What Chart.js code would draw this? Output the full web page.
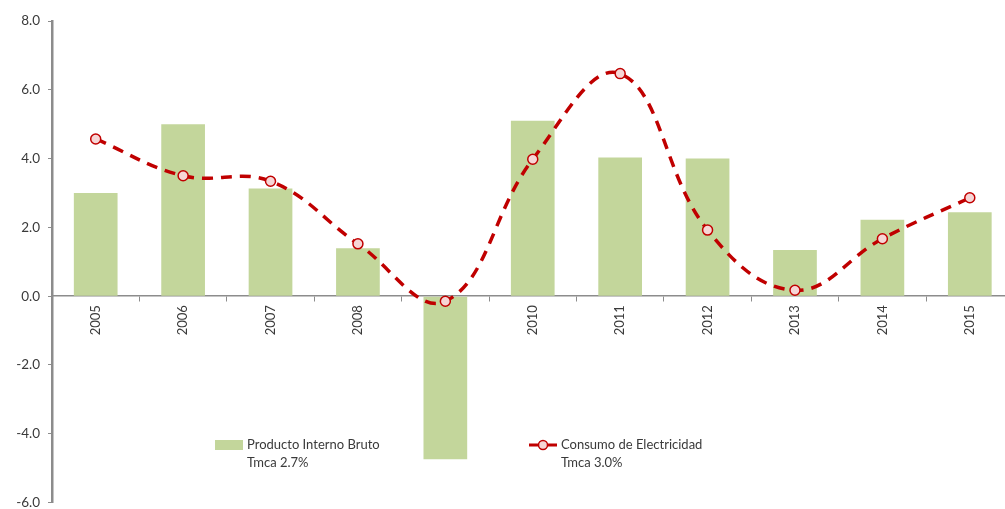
<!DOCTYPE html>
<html>
<head>
<meta charset="utf-8">
<script src="https://cdn.jsdelivr.net/npm/chart.js@4.4.1/dist/chart.umd.min.js"></script>
<style>
  html, body { margin: 0; padding: 0; background: #fff; overflow: hidden; }
  #wrap { width: 1020px; height: 509px; }
</style>
</head>
<body>
<div id="wrap"><canvas id="chart"></canvas></div>
<script>
// datos
const years = ['2005', '2006', '2007', '2008', '2009', '2010', '2011', '2012', '2013', '2014', '2015'];
const pib = [3.0, 5.0, 3.13, 1.39, -4.74, 5.1, 4.03, 4.0, 1.34, 2.22, 2.44];
const electricidad = [4.57, 3.5, 3.34, 1.52, -0.15, 3.98, 6.47, 1.92, 0.17, 1.67, 2.86];
const yTicks = [-6, -4, -2, 0, 2, 4, 6, 8];
const pibLabel = ['Producto Interno Bruto', 'Tmca 2.7%'];
const elecLabel = ['Consumo de Electricidad', 'Tmca 3.0%'];

const barColor = '#C3D69B';
const lineColor = '#C00000';
const pointFill = '#F6D6D6';
const axisColor = '#8C8C8C';
const textColor = '#3A3A3A';
const fontFamily = 'Lato, "Open Sans", sans-serif';

// leyenda dibujada dentro del area del grafico
const legendPlugin = {
    id: 'insideLegend',
    afterDraw(chart) {
        const ctx = chart.ctx;
        ctx.save();
        ctx.font = '13px ' + fontFamily;
        ctx.fillStyle = textColor;
        ctx.textBaseline = 'middle';

        // PIB
        ctx.fillStyle = barColor;
        ctx.fillRect(215, 440, 28, 10);
        ctx.fillStyle = textColor;
        ctx.fillText(pibLabel[0], 247, 445);
        ctx.fillText(pibLabel[1], 247, 463);

        // electricidad
        ctx.strokeStyle = lineColor;
        ctx.lineWidth = 3;
        ctx.beginPath();
        ctx.moveTo(529, 445); ctx.lineTo(538, 445);
        ctx.moveTo(548, 445); ctx.lineTo(557, 445);
        ctx.stroke();
        ctx.beginPath();
        ctx.arc(543, 445, 4.5, 0, Math.PI * 2);
        ctx.fillStyle = pointFill;
        ctx.fill();
        ctx.lineWidth = 1.5;
        ctx.stroke();
        ctx.fillStyle = textColor;
        ctx.fillText(elecLabel[0], 561, 445);
        ctx.fillText(elecLabel[1], 561, 463);
        ctx.restore();
    }
};

const data = {
    labels: years,
    datasets: [{
            type: 'line',
            label: elecLabel.join(' '),
            data: electricidad,
            borderColor: lineColor,
            borderWidth: 3.5,
            borderDash: [11, 8],
            tension: 0.4,
            pointRadius: 5,
            pointBorderWidth: 1.5,
            pointBackgroundColor: pointFill,
            pointBorderColor: lineColor,
            order: 0
        }, {
            type: 'bar',
            label: pibLabel.join(' '),
            data: pib,
            backgroundColor: barColor,
            categoryPercentage: 1,
            barPercentage: 0.5,
            order: 1
        }]
};

const config = {
    data: data,
    options: {
        responsive: true,
        maintainAspectRatio: false,
        animation: false,
        layout: { padding: { top: 21, bottom: 5, left: 0, right: 0 } },
        plugins: {
            legend: { display: false },
            tooltip: { enabled: false }
        },
        scales: {
            x: {
                position: { y: 0 },
                offset: true,
                afterFit: s => { s.height = 0; s.paddingLeft = 0; s.paddingRight = 0; },
                border: { color: axisColor, width: 1.5 },
                grid: {
                    offset: true,
                    drawOnChartArea: false,
                    drawTicks: true,
                    tickLength: 5,
                    color: axisColor
                },
                ticks: {
                    minRotation: 90,
                    maxRotation: 90,
                    padding: 4,
                    color: textColor,
                    font: { family: fontFamily, size: 13 }
                }
            },
            y: {
                min: -6,
                max: 8,
                afterFit: s => { s.width = 52; s.paddingTop = 0; s.paddingBottom = 0; },
                afterBuildTicks: s => { s.ticks = yTicks.map(v => ({ value: v })); },
                border: { color: axisColor, width: 2.5 },
                grid: {
                    drawOnChartArea: false,
                    drawTicks: true,
                    tickLength: 4,
                    color: axisColor
                },
                ticks: {
                    padding: 8,
                    color: textColor,
                    font: { family: fontFamily, size: 13.5 },
                    callback: v => v.toFixed(1)
                }
            }
        }
    },
    plugins: [legendPlugin]
};

let ctx = document.getElementById('chart').getContext('2d');
new Chart(ctx, config);
</script>
</body>
</html>
